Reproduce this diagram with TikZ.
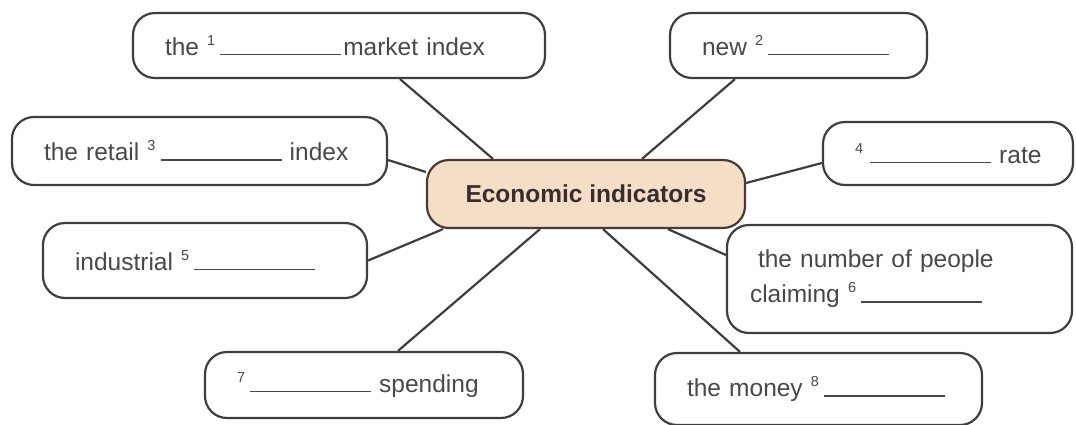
\documentclass[tikz,border=0pt]{standalone}
\usepackage{fontspec}
\setmainfont{Liberation Sans}
\usepackage{tikz}
\usepackage{xcolor}
\definecolor{inkgray}{RGB}{62,62,62}
\definecolor{textgray}{RGB}{72,72,72}
\definecolor{peach}{RGB}{245,222,200}
\definecolor{hubline}{RGB}{74,58,52}
\definecolor{hubtext}{RGB}{58,44,44}
\newcommand{\gapno}[1]{{\fontsize{14.5}{14.5}\selectfont\raisebox{10pt}{#1}}}
\newcommand{\gapline}{\rule{121pt}{1.5pt}}
\tikzset{
    slot/.style={draw=inkgray, line width=2.2pt, rounded corners=22pt, text=textgray,
        font=\fontsize{24.5}{35}\selectfont, inner xsep=32pt, inner ysep=0pt, align=left},
    core/.style={draw=hubline, fill=peach, line width=2.2pt, rounded corners=22pt,
        text=hubtext, font=\fontsize{24.5}{30}\selectfont\bfseries,
        minimum width=318pt, minimum height=68pt},
    spoke/.style={draw=inkgray, line width=2.2pt}
}

\begin{document}
\begin{tikzpicture}[x=1pt, y=-1pt]
    \useasboundingbox (0,0) rectangle (1076,424);
    % centre
    \node[core] (hub) at (586,194) {Economic indicators};
    % gaps to fill
    \node[slot, text width=348pt, minimum height=65pt] (market) at (339,45.5)
        {\mbox{the \gapno{1}\hspace{5pt}\gapline\hspace{2pt}market index}};
    \node[slot, text width=193pt, minimum height=65pt] (newbox) at (798.5,45.5)
        {\mbox{new \gapno{2}\hspace{5pt}\gapline}};
    \node[slot, text width=311pt, minimum height=68pt] (retail) at (199.5,151)
        {\mbox{the retail \gapno{3}\hspace{5pt}\gapline\ index}};
    \node[slot, text width=186pt, minimum height=63pt] (rate) at (948,153.5)
        {\mbox{\gapno{4}\hspace{7pt}\gapline\ rate}};
    \node[slot, text width=260pt, minimum height=75pt] (industrial) at (205,260.5)
        {\mbox{industrial \gapno{5}\hspace{5pt}\gapline}};
    \node[slot, text width=299pt, minimum height=108pt, inner xsep=23pt] (claims) at (899.5,279)
        {\hspace*{8pt}the number of people\\claiming \gapno{6}\hspace{5pt}\gapline};
    \node[slot, text width=254pt, minimum height=66pt] (spending) at (364,385)
        {\mbox{\gapno{7}\hspace{5pt}\gapline\ spending}};
    \node[slot, text width=263pt, minimum height=72pt] (money) at (818.5,389)
        {\mbox{the money \gapno{8}\hspace{5pt}\gapline}};
    % spokes
    \draw[spoke] ([xshift=61pt]market.south) -- ([xshift=-93pt]hub.north);
    \draw[spoke] ([xshift=-63.5pt]newbox.south) -- ([xshift=56pt]hub.north);
    \draw[spoke] ([yshift=-9pt]retail.east) -- ([yshift=22pt]hub.west);
    \draw[spoke] ([yshift=-9.5pt]rate.west) -- ([yshift=11pt]hub.east);
    \draw[spoke] (industrial.east) -- ([xshift=-143pt]hub.south);
    \draw[spoke] ([xshift=82pt]hub.south) -- ([yshift=24pt]claims.west);
    \draw[spoke] ([xshift=-46pt]hub.south) -- ([xshift=34pt]spending.north);
    \draw[spoke] ([xshift=17pt]hub.south) -- ([xshift=-78.5pt]money.north);
\end{tikzpicture}
\end{document}
